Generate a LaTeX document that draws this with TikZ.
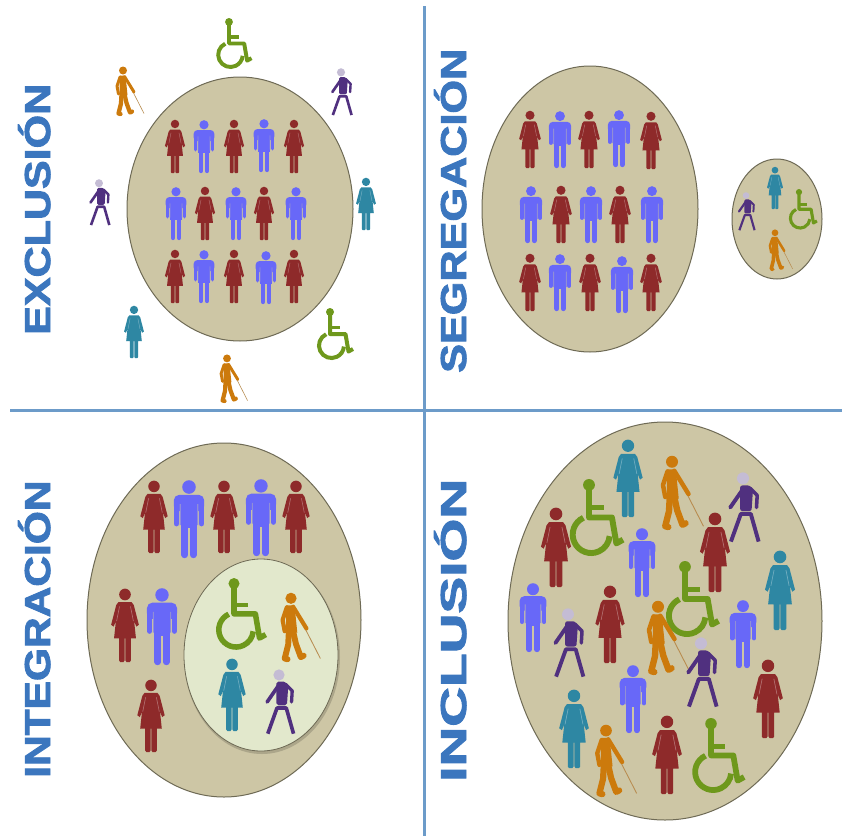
\documentclass[tikz,border=0pt]{standalone}
\usepackage{fontspec}
\setmainfont{Liberation Sans}
\newfontfamily\titlefont[FakeBold=2.2]{Liberation Sans Bold}
\definecolor{disc}{HTML}{CDC6A5}
\definecolor{discedge}{HTML}{6E6A55}
\definecolor{inner}{HTML}{E2E8CC}
\definecolor{redf}{HTML}{8E2A2A}
\definecolor{bluef}{HTML}{6868F8}
\definecolor{tealf}{HTML}{2E87A3}
\definecolor{orangef}{HTML}{CC7A0C}
\definecolor{greenf}{HTML}{6E981C}
\definecolor{purplef}{HTML}{50307F}
\definecolor{headp}{HTML}{C4BCD4}
\definecolor{cane}{HTML}{B88C50}
\definecolor{rule}{HTML}{6C9BC9}
\definecolor{titleblue}{HTML}{3B76BE}
\tikzset{
  discshape/.style={fill=disc,draw=discedge,line width=1pt},
  divider/.style={draw=rule,line width=3pt},
  titletext/.style={text=titleblue,font=\fontsize{36}{36}\titlefont,rotate=90,anchor=base west,inner sep=0pt},
  limb/.style={line cap=round,line join=round}
}
% #1 x, #2 top y, #3 height, #4 colour
\newcommand{\Fwoman}[4]{\begin{scope}[shift={(#1,#2)},scale=#3]
  \fill[#4] (0,.075) circle (.08);
  \fill[#4] (-.09,.18) -- (.09,.18) -- (.12,.22) -- (.19,.49) -- (.155,.515) -- (.125,.44) -- (.15,.675) -- (.08,.675) -- (.08,.98) -- (.065,1) -- (.02,1) -- (.006,.98) -- (.006,.675) -- (-.006,.675) -- (-.006,.98) -- (-.02,1) -- (-.065,1) -- (-.08,.98) -- (-.08,.675) -- (-.15,.675) -- (-.125,.44) -- (-.155,.515) -- (-.19,.49) -- (-.12,.22) -- cycle;
  \draw[#4!65!white,line width=#3*.008pt] (-.075,.24) -- (-.115,.44) (.075,.24) -- (.115,.44);
\end{scope}}
\newcommand{\Fman}[4]{\begin{scope}[shift={(#1,#2)},scale=#3]
  \fill[#4] (0,.09) circle (.087);
  \fill[#4,rounded corners=#3*.07pt] (-.195,.4) -- (-.195,.19) -- (.195,.19) -- (.195,.4) -- cycle;
  \fill[#4] (-.105,.25) rectangle (.105,.62);
  \fill[disc!40!#4] (-.12,.31) rectangle (-.105,.58) (.105,.31) rectangle (.12,.58);
  \draw[#4,limb,line width=#3*.07pt] (-.16,.33) -- (-.16,.56) (.16,.33) -- (.16,.56);
  \draw[#4,limb,line width=#3*.085pt] (-.055,.6) -- (-.055,.96) (.055,.6) -- (.055,.96);
\end{scope}}
\newcommand{\Fwheel}[3]{\begin{scope}[shift={(#1,#2)},scale=#3]
  \fill[greenf] (0,.08) circle (.08);
  \draw[greenf,line width=#3*.08pt,line join=round] (0,.14) -- (0,.52) -- (.31,.52) -- (.37,.87) -- (.46,.82);
  \draw[greenf,line width=#3*.07pt] (0,.39) -- (.2,.39);
  \draw[greenf,line width=#3*.08pt] (-.076,.524) arc[start angle=245,end angle=5,radius=.25];
\end{scope}}
\newcommand{\Fblind}[3]{\begin{scope}[shift={(#1,#2)},scale=#3]
  \draw[cane,line width=#3*.012pt] (.2,.52) -- (.42,.95);
  \fill[orangef] (0,.09) circle (.08);
  \fill[orangef] (-.07,.19) -- (.05,.19) -- (.09,.58) -- (-.07,.58) -- cycle;
  \draw[orangef,limb,line width=#3*.06pt] (-.06,.22) -- (-.12,.4) -- (-.09,.56);
  \draw[orangef,limb,line width=#3*.06pt] (.03,.21) -- (.22,.52);
  \draw[orangef,limb,line width=#3*.085pt] (.03,.56) -- (.07,.74) -- (.14,.93) -- (.18,.91);
  \draw[orangef,limb,line width=#3*.085pt] (-.03,.56) -- (-.04,.75) -- (-.09,.95) -- (-.05,.96);
\end{scope}}
\newcommand{\Fstick}[3]{\begin{scope}[shift={(#1,#2)},scale=#3]
  \fill[headp] (0,.09) circle (.085);
  \fill[purplef,rounded corners=#3*.03pt] (-.04,.19) -- (.1,.19) -- (.14,.26) -- (.12,.55) -- (-.04,.55) -- cycle;
  \draw[purplef,limb,line width=#3*.055pt] (.0,.24) -- (-.18,.5);
  \draw[purplef,limb,line width=#3*.05pt] (.1,.23) -- (.2,.33) -- (.19,.5);
  \draw[purplef,line width=#3*.055pt,line join=round] (-.17,.98) -- (-.03,.59) -- (.11,.59) -- (.22,.98);
\end{scope}}
\begin{document}
\begin{tikzpicture}[x=1pt,y=-1pt]
\useasboundingbox (0,0) rectangle (844,836);
\fill[white] (0,0) rectangle (844,836);
% dividers
\draw[divider] (424,6) -- (424,836);
\draw[divider] (10,410) -- (842,410);
% titles
\node[titletext] (t1) at (50,335) {\scalebox{1.195}[1]{EXCLUSIÓN}};
\node[titletext] (t2) at (466,373) {\scalebox{1.2}[1]{SEGREGACIÓN}};
\node[titletext] (t3) at (50,778) {\scalebox{1.18}[1]{INTEGRACIÓN}};
\node[titletext] (t4) at (466,782) {\scalebox{1.53}[1]{INCLUSIÓN}};
% EXCLUSION
\fill[discshape] (240,209) ellipse (113 and 132);
\Fwoman{175}{120}{53}{redf}\Fman{204}{120}{53}{bluef}\Fwoman{234}{120}{53}{redf}\Fman{264}{119}{53}{bluef}\Fwoman{294}{120}{53}{redf}
\Fman{176}{187}{53}{bluef}\Fwoman{205}{187}{53}{redf}\Fman{236}{187}{53}{bluef}\Fwoman{264}{187}{53}{redf}\Fman{296}{187}{53}{bluef}
\Fwoman{175}{250}{53}{redf}\Fman{204}{250}{53}{bluef}\Fwoman{234}{250}{53}{redf}\Fman{266}{251}{53}{bluef}\Fwoman{294}{250}{53}{redf}
\Fwheel{229}{18}{49}\Fblind{123}{66}{50}\Fstick{341}{68}{48}\Fwoman{366}{178}{52}{tealf}\Fstick{99}{179}{47}\Fwoman{134}{306}{52}{tealf}\Fwheel{330}{308}{50}\Fblind{227}{354}{49}
% SEGREGACION
\fill[discshape] (590,209) ellipse (108 and 143);
\Fwoman{530}{111}{57}{redf}\Fman{560}{111}{57}{bluef}\Fwoman{589}{111}{57}{redf}\Fman{619}{110}{57}{bluef}\Fwoman{651}{112}{57}{redf}
\Fman{531}{186}{57}{bluef}\Fwoman{561}{186}{57}{redf}\Fman{591}{186}{57}{bluef}\Fwoman{620}{186}{57}{redf}\Fman{652}{186}{57}{bluef}
\Fwoman{530}{254}{57}{redf}\Fman{560}{254}{57}{bluef}\Fwoman{590}{254}{57}{redf}\Fman{622}{256}{57}{bluef}\Fwoman{651}{254}{57}{redf}
\fill[discshape] (777,219) ellipse (45 and 60);
\Fstick{746}{192}{39}\Fwoman{775}{167}{42}{tealf}\Fwheel{799}{189}{39}\Fblind{775}{229}{42}
% INTEGRACION
\fill[discshape] (224,620) ellipse (137 and 177);
\Fwoman{154}{481}{72}{redf}\Fman{189}{480}{78}{bluef}\Fwoman{224}{481}{72}{redf}\Fman{261}{479}{77}{bluef}\Fwoman{296}{481}{72}{redf}
\Fwoman{125}{589}{73}{redf}\Fman{162}{588}{77}{bluef}\Fwoman{151}{680}{72}{redf}
\fill[black,opacity=.16] (262,657) ellipse (78 and 97);
\fill[inner,draw=discedge,line width=.8pt] (261,655) ellipse (77 and 96);
\Fwheel{234}{578}{69}\Fblind{291}{592}{70}\Fwoman{232}{659}{72}{tealf}\Fstick{279}{669}{66}
% INCLUSION
\fill[discshape] (665,621) ellipse (157 and 199);
\Fwoman{628}{440}{77}{tealf}\Fblind{672}{455}{75}\Fstick{743}{472}{71}\Fwheel{589}{479}{74}
\Fwoman{556}{508}{79}{redf}\Fwoman{715}{513}{79}{redf}\Fman{642}{528}{69}{bluef}\Fwoman{780}{551}{79}{tealf}
\Fwheel{685}{561}{73}\Fman{533}{583}{69}{bluef}\Fman{743}{600}{68}{bluef}\Fstick{568}{608}{70}
\Fwoman{610}{586}{77}{redf}\Fblind{658}{600}{75}\Fstick{701}{637}{71}\Fman{633}{665}{68}{bluef}
\Fwoman{768}{660}{78}{redf}\Fwoman{574}{690}{78}{tealf}\Fblind{606}{724}{73}\Fwoman{667}{716}{78}{redf}\Fwheel{711}{718}{72}
\end{tikzpicture}
\end{document}
